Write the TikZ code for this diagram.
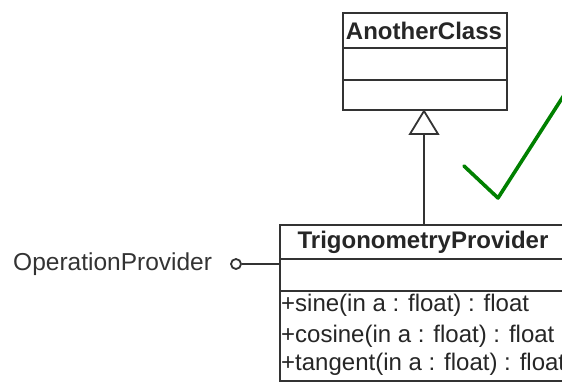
\documentclass[tikz,border=0pt]{standalone}
\usepackage{fontspec}
\setmainfont{Liberation Sans}
\begin{document}
\begin{tikzpicture}[x=1pt,y=-1pt,
  umlline/.style={draw=black!80,line width=1.8pt},
  classtitle/.style={font=\fontsize{24}{27}\selectfont\bfseries,text=black!85,inner sep=0pt},
  member/.style={font=\fontsize{24}{27}\selectfont,text=black!85,inner sep=0pt,anchor=west},
  ifacelabel/.style={font=\fontsize{24.5}{27}\selectfont,text=black!80,inner sep=0pt,anchor=west},
  tick/.style={draw=green!50!black,line width=3.6pt,line cap=round,line join=round}]
\useasboundingbox (0,0) rectangle (562,383);
\clip (0,0) rectangle (562,383);
% superclass box
\draw[umlline,fill=white] (343,13) rectangle (507,110);
\draw[umlline] (343,48) -- (507,48);
\draw[umlline] (343,80) -- (507,80);
\node[classtitle] (another) at (424,31) {AnotherClass};
\coordinate (anotherbottom) at (424,111);
% implementing class box
\draw[umlline,fill=white] (280,225) rectangle (568,381);
\draw[umlline] (280,259) -- (568,259);
\draw[umlline] (280,291) -- (568,291);
\node[classtitle] (trig) at (423,242) {TrigonometryProvider};
\coordinate (trigtop) at (424,225);
\coordinate (trigleft) at (280,264);
\node[member] (sine) at (281,305) {+sine(in a : float) : float};
\node[member] (cosine) at (281,336) {+cosine(in a : float) : float};
\node[member] (tangent) at (281,364) {+tangent(in a : float) : float};
% generalization arrow
\coordinate (tribase) at (424,134);
\draw[umlline] (trigtop) -- (tribase);
\draw[umlline,fill=white,line join=miter] (anotherbottom) -- (438,134) -- (410,134) -- cycle;
% provided interface (lollipop)
\node[ifacelabel] (iface) at (13,264) {OperationProvider};
\node[draw=black!80,line width=1.8pt,circle,minimum size=10pt,inner sep=0pt] (ball) at (236,264) {};
\draw[umlline] (ball) -- (trigleft);
% check mark
\draw[tick] (464,166) -- (498,198) -- (566,92);
\end{tikzpicture}
\end{document}
